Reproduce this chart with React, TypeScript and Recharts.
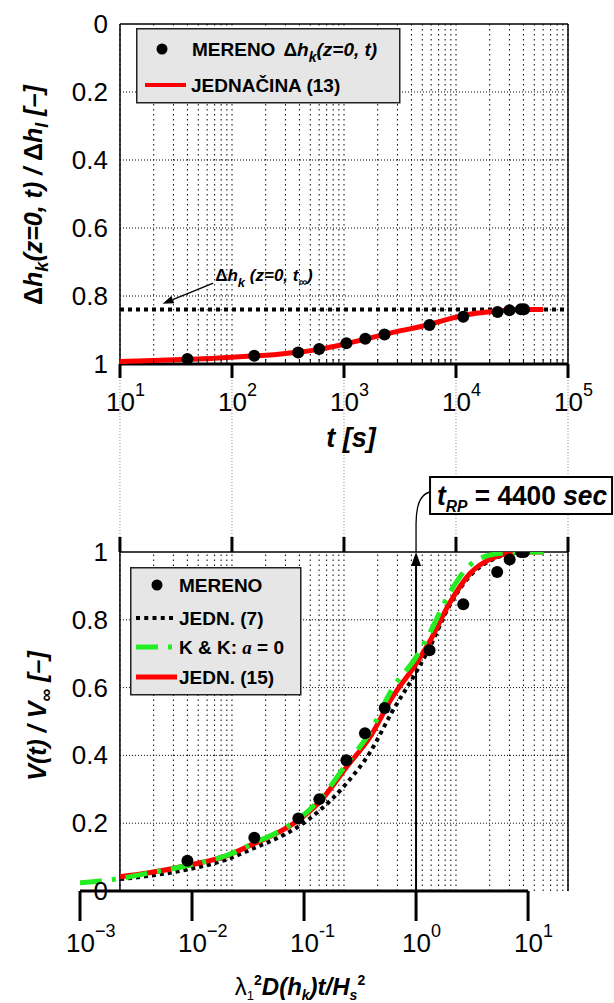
import React from 'react';
import { ComposedChart, Line, Scatter, XAxis, YAxis, ReferenceLine, Legend } from 'recharts';

const FONT = '"Liberation Sans", Arial, Helvetica, sans-serif';

// ---------- axes ----------
const T_DECADES = [10, 100, 1000, 10000, 100000];
const T_DECADE_EXP = ['1', '2', '3', '4', '5'];
const MINOR_MULT = [2, 3, 4, 5, 6, 7, 8, 9];
const Y_TICKS = [0, 0.2, 0.4, 0.6, 0.8, 1];
const Y_TICK_LABELS = ['0', '0.2', '0.4', '0.6', '0.8', '1'];
const Y_GRID = [0.2, 0.4, 0.6, 0.8];
const LAM_TICKS = [0.001, 0.01, 0.1, 1, 10];
const LAM_TICK_EXP = ['\u22123', '\u22122', '-1', '0', '1'];

// ---------- top chart data ----------
const T_MEAS = [40, 158, 390, 600, 1050, 1550, 2300, 5800, 11600, 23500, 30000, 38000, 40500];
const DH_MEAS = [0.985, 0.976, 0.966, 0.956, 0.939, 0.926, 0.913, 0.885, 0.861, 0.847, 0.842, 0.839, 0.839];
const T_EQ13 = [10, 20, 40, 70, 100, 160, 250, 400, 600, 1000, 1500, 2300, 3000, 5000, 7000, 10000, 15000, 20000, 30000, 45000, 60000];
const DH_EQ13 = [0.993, 0.99, 0.986, 0.983, 0.98, 0.976, 0.972, 0.965, 0.957, 0.942, 0.928, 0.913, 0.904, 0.889, 0.876, 0.862, 0.851, 0.846, 0.841, 0.84, 0.84];
const DH_INF = 0.84;
const DH_ARROW_T = [68, 24];
const DH_ARROW_V = [0.762, 0.823];
const TOP_LEGEND = ['MERENO', 'JEDNAČINA (13)'];

// ---------- bottom chart data ----------
const T_RP = 4400;
const LAM_MEAS = [0.0091, 0.036, 0.089, 0.137, 0.239, 0.35, 0.525, 1.32, 2.64, 5.3, 6.85, 8.65, 9.2];
const V_MEAS = [0.089, 0.157, 0.214, 0.271, 0.386, 0.465, 0.54, 0.71, 0.846, 0.941, 0.978, 1.0, 1.0];
const LAM_CURVE = [0.001, 0.00228, 0.004, 0.01, 0.02, 0.036, 0.063, 0.089, 0.138, 0.24, 0.39, 0.61, 1.0, 1.32, 2.0, 3.0, 4.9, 8.6, 13.8];
const V_EQ7 = [null, 0.035, 0.044, 0.066, 0.092, 0.127, 0.162, 0.19, 0.238, 0.318, 0.41, 0.528, 0.645, 0.718, 0.843, 0.928, 0.979, 0.999, 1.0];
const V_KK = [0.024, 0.037, 0.052, 0.078, 0.104, 0.142, 0.18, 0.212, 0.27, 0.375, 0.47, 0.595, 0.69, 0.76, 0.88, 0.96, 0.993, 1.0, 1.0];
const V_EQ15 = [null, 0.042, 0.053, 0.078, 0.103, 0.14, 0.178, 0.209, 0.263, 0.366, 0.455, 0.57, 0.67, 0.735, 0.85, 0.935, 0.983, 1.0, 1.0];
const BOTTOM_LEGEND = ['MERENO', 'JEDN. (7)', 'K & K: ', 'JEDN. (15)'];

// ---------- derived tables ----------
const T_GRID: number[] = [];
T_DECADES.forEach((d, i) => {
  T_GRID.push(d);
  if (i < T_DECADES.length - 1) MINOR_MULT.forEach((m) => T_GRID.push(m * d));
});

const topMeas = T_MEAS.map((t, i) => ({ t, v: DH_MEAS[i] }));
const topEq13 = T_EQ13.map((t, i) => ({ t, v: DH_EQ13[i] }));
const btmMeas = LAM_MEAS.map((lam, i) => ({ lam, v: V_MEAS[i] }));
const mk = (arr: (number | null)[]) =>
  LAM_CURVE.map((lam, i) => ({ lam, v: arr[i] })).filter((d) => d.v != null);
const btmEq7 = mk(V_EQ7);
const btmKK = mk(V_KK);
const btmEq15 = mk(V_EQ15);

const T_MIN = T_DECADES[0];
const T_MAX = T_DECADES[T_DECADES.length - 1];
const LAM_MIN = LAM_TICKS[0];

// ---------- renderers ----------
const DotShape = (p: any) => <circle cx={p.cx} cy={p.cy} r={6} fill="#000" />;

const TopXTick = (p: any) => {
  const { x, y, payload } = p;
  const i = T_DECADES.indexOf(payload.value);
  if (i < 0) return <line x1={x} y1={y} x2={x} y2={y - 5} stroke="#000" strokeWidth={1} />;
  return (
    <g>
      <line x1={x} y1={y} x2={x} y2={y + 14} stroke="#000" strokeWidth={3} />
      <text x={x - 14} y={y + 47} fontFamily={FONT} fontSize={26} fill="#000">
        10<tspan dy={-15} fontSize={18}>{T_DECADE_EXP[i]}</tspan>
      </text>
    </g>
  );
};

const BtmTopTick = (p: any) => {
  const { x, y, payload } = p;
  const i = T_DECADES.indexOf(payload.value);
  if (i < 0) return <g />;
  return <line x1={x} y1={y} x2={x} y2={y - 15} stroke="#000" strokeWidth={3} />;
};

const LamTick = (p: any) => {
  const { x, y, payload } = p;
  const i = LAM_TICKS.indexOf(payload.value);
  return (
    <g>
      <line x1={x} y1={y} x2={x} y2={y + 30} stroke="#000" strokeWidth={3} />
      <text x={x - 14} y={y + 61} fontFamily={FONT} fontSize={26} fill="#000">
        10<tspan dy={-15} fontSize={18}>{LAM_TICK_EXP[i]}</tspan>
      </text>
    </g>
  );
};

const makeYTick = (dx: number) => (p: any) => {
  const { x, y, payload } = p;
  const i = Y_TICKS.indexOf(payload.value);
  return (
    <text x={x + dx} y={y} dy={9} textAnchor="end" fontFamily={FONT} fontSize={26} fill="#000">
      {Y_TICK_LABELS[i]}
    </text>
  );
};

const DhArrow = (p: any) => {
  const { x1, y1, x2, y2 } = p;
  const ang = Math.atan2(y2 - y1, x2 - x1);
  const L = 11;
  const W = 4;
  const bx = x2 - L * Math.cos(ang);
  const by = y2 - L * Math.sin(ang);
  const px = -Math.sin(ang) * W;
  const py = Math.cos(ang) * W;
  return (
    <g>
      <line x1={x1} y1={y1} x2={bx} y2={by} stroke="#000" strokeWidth={1.3} />
      <polygon points={`${x2},${y2} ${bx + px},${by + py} ${bx - px},${by - py}`} fill="#000" />
      <text x={x1 + 2} y={y1 - 2} fontFamily={FONT} fontWeight="bold" fontSize={17} fill="#000">
        {'\u0394'}
        <tspan fontStyle="italic">h</tspan>
        <tspan fontStyle="italic" fontSize={13} dy={6}>k</tspan>
        <tspan fontStyle="italic" dy={-6}> (z=0, t</tspan>
        <tspan fontStyle="italic" fontSize={12} dy={5}>{'\u221e'}</tspan>
        <tspan fontStyle="italic" dy={-5}>)</tspan>
      </text>
    </g>
  );
};

const TrpArrow = (p: any) => {
  const { x1, y1, y2 } = p;
  const top = Math.min(y1, y2);
  const bot = Math.max(y1, y2);
  const x = x1;
  return (
    <g>
      <line x1={x} y1={bot} x2={x} y2={top + 12} stroke="#000" strokeWidth={2} />
      <polygon points={`${x},${top} ${x - 5},${top + 14} ${x + 5},${top + 14}`} fill="#000" />
      <path
        d={`M${x},${top} L${x},${top - 28} C${x},${top - 48} ${x + 5},${top - 58} ${x + 14},${top - 60}`}
        fill="none"
        stroke="#000"
        strokeWidth={1.3}
      />
      <rect x={x + 14} y={top - 75} width={182} height={37} fill="#fff" stroke="#000" strokeWidth={2} />
      <text
        x={x + 21}
        y={top - 47}
        fontFamily={FONT}
        fontWeight="bold"
        fontSize={27}
        fill="#000"
        textLength={170}
        lengthAdjust="spacingAndGlyphs"
      >
        <tspan fontStyle="italic">t</tspan>
        <tspan fontStyle="italic" fontSize={16} dy={7}>RP</tspan>
        <tspan dy={-7}> = {T_RP} </tspan>
        <tspan fontStyle="italic">sec</tspan>
      </text>
    </g>
  );
};

const TopLegend = () => (
  <svg width={266} height={77} style={{ display: 'block' }}>
    <rect x={0.75} y={0.75} width={263} height={74} fill="#e6e6e6" stroke="#222" strokeWidth={1.5} />
    <circle cx={26} cy={21} r={5.5} fill="#000" />
    <text x={56} y={28} fontFamily={FONT} fontWeight="bold" fontSize={19} fill="#000">
      {TOP_LEGEND[0]}
      <tspan dx={8}>{'\u0394'}</tspan>
      <tspan fontStyle="italic">h</tspan>
      <tspan fontStyle="italic" fontSize={14} dy={6}>k</tspan>
      <tspan fontStyle="italic" dy={-6}>(z=0, t)</tspan>
    </text>
    <line x1={9} y1={57} x2={50} y2={57} stroke="#ff0000" strokeWidth={4} />
    <text x={55} y={64} fontFamily={FONT} fontWeight="bold" fontSize={19} fill="#000">
      {TOP_LEGEND[1]}
    </text>
  </svg>
);

const BottomLegend = () => (
  <svg width={172} height={129} style={{ display: 'block' }}>
    <rect x={0.75} y={0.75} width={170} height={127} fill="#e6e6e6" stroke="#222" strokeWidth={1.5} />
    <circle cx={27} cy={18} r={5.5} fill="#000" />
    <text x={49} y={25} fontFamily={FONT} fontWeight="bold" fontSize={19} fill="#000">{BOTTOM_LEGEND[0]}</text>
    <line x1={6} y1={51} x2={47} y2={51} stroke="#000" strokeWidth={4} strokeDasharray="4 4.25" />
    <text x={49} y={58} fontFamily={FONT} fontWeight="bold" fontSize={19} fill="#000">{BOTTOM_LEGEND[1]}</text>
    <line x1={6} y1={80} x2={47} y2={80} stroke="#22ee22" strokeWidth={5} strokeDasharray="22 10 4 10" />
    <text x={49} y={87} fontFamily={FONT} fontWeight="bold" fontSize={19} fill="#000">
      {BOTTOM_LEGEND[2]}
      <tspan fontFamily="'Liberation Serif', serif" fontStyle="italic">a</tspan> = 0
    </text>
    <line x1={6} y1={110} x2={47} y2={110} stroke="#ff0000" strokeWidth={5} />
    <text x={49} y={117} fontFamily={FONT} fontWeight="bold" fontSize={19} fill="#000">{BOTTOM_LEGEND[3]}</text>
  </svg>
);

const GRID_V = '1.5 3.5';
const GRID_H = '1 2';

function TopChart() {
  return (
    <ComposedChart width={614} height={470} margin={{ top: 24, right: 46, bottom: 46, left: 60 }}>
      <XAxis
        dataKey="t"
        type="number"
        scale="log"
        domain={[T_MIN, T_MAX]}
        allowDataOverflow
        ticks={T_GRID}
        interval={0}
        tickLine={false}
        axisLine={false}
        tickSize={0}
        tickMargin={0}
        height={60}
        tick={TopXTick}
      />
      <YAxis
        dataKey="v"
        type="number"
        domain={[0, 1]}
        reversed
        allowDataOverflow
        ticks={Y_TICKS}
        interval={0}
        tickLine={false}
        axisLine={false}
        tickSize={0}
        tickMargin={0}
        width={60}
        tick={makeYTick(-12)}
      />
      {T_GRID.map((t) => (
        <ReferenceLine key={'gv' + t} segment={[{ x: t, y: 0 }, { x: t, y: 1 }]} stroke="#000" strokeWidth={1} strokeDasharray={GRID_V} ifOverflow="visible" />
      ))}
      {Y_GRID.map((v) => (
        <ReferenceLine key={'gh' + v} segment={[{ x: T_MIN, y: v }, { x: T_MAX, y: v }]} stroke="#000" strokeWidth={1} strokeDasharray={GRID_H} ifOverflow="visible" />
      ))}
      <ReferenceLine segment={[{ x: T_MIN, y: 0 }, { x: T_MIN, y: 1 }]} stroke="#000" strokeWidth={1.5} ifOverflow="visible" />
      <ReferenceLine segment={[{ x: T_MAX, y: 0 }, { x: T_MAX, y: 1 }]} stroke="#000" strokeWidth={1.5} ifOverflow="visible" />
      <ReferenceLine segment={[{ x: T_MIN, y: 0 }, { x: T_MAX, y: 0 }]} stroke="#000" strokeWidth={1.5} ifOverflow="visible" />
      <ReferenceLine segment={[{ x: T_MIN, y: 1 }, { x: T_MAX, y: 1 }]} stroke="#000" strokeWidth={3} ifOverflow="visible" />
      <ReferenceLine y={DH_INF} stroke="#000" strokeWidth={4} strokeDasharray="4 4" ifOverflow="visible" />
      <Line data={topEq13} dataKey="v" type="monotone" stroke="#ff0000" strokeWidth={5} dot={false} isAnimationActive={false} />
      <Scatter data={topMeas} dataKey="v" shape={DotShape} isAnimationActive={false} />
      <ReferenceLine
        segment={[{ x: DH_ARROW_T[0], y: DH_ARROW_V[0] }, { x: DH_ARROW_T[1], y: DH_ARROW_V[1] }]}
        shape={DhArrow}
        ifOverflow="visible"
      />
      <Legend
        layout="vertical"
        align="center"
        verticalAlign="middle"
        wrapperStyle={{ left: 136, top: 28, width: 266, height: 77 }}
        content={() => <TopLegend />}
      />
    </ComposedChart>
  );
}

function BottomChart() {
  return (
    <ComposedChart width={614} height={633} margin={{ top: 150, right: 46, bottom: 52, left: 40 }}>
      <XAxis
        xAxisId="lam"
        orientation="bottom"
        dataKey="lam"
        type="number"
        scale="log"
        domain={[LAM_MIN, T_MAX / T_RP]}
        allowDataOverflow
        ticks={LAM_TICKS}
        interval={0}
        tickLine={false}
        axisLine={false}
        tickSize={0}
        tickMargin={0}
        height={60}
        tick={LamTick}
      />
      <XAxis
        xAxisId="t"
        orientation="top"
        dataKey="t"
        type="number"
        scale="log"
        domain={[LAM_MIN * T_RP, T_MAX]}
        allowDataOverflow
        ticks={T_GRID}
        interval={0}
        tickLine={false}
        axisLine={false}
        tickSize={0}
        tickMargin={0}
        height={32}
        tick={BtmTopTick}
      />
      <YAxis
        yAxisId="v"
        dataKey="v"
        type="number"
        domain={[0, 1]}
        allowDataOverflow
        ticks={Y_TICKS}
        interval={0}
        tickLine={false}
        axisLine={false}
        tickSize={0}
        tickMargin={0}
        width={40}
        tick={makeYTick(28)}
      />
      {T_GRID.map((t) => (
        <ReferenceLine key={'gv' + t} xAxisId="t" yAxisId="v" segment={[{ x: t, y: 0 }, { x: t, y: 1 }]} stroke="#000" strokeWidth={1} strokeDasharray={GRID_V} ifOverflow="visible" />
      ))}
      {T_DECADES.map((t) => (
        <ReferenceLine key={'gb' + t} xAxisId="t" yAxisId="v" segment={[{ x: t, y: 1.044 }, { x: t, y: 1.513 }]} stroke="#888" strokeWidth={1} strokeDasharray="1 2" ifOverflow="visible" />
      ))}
      {Y_GRID.map((v) => (
        <ReferenceLine key={'gh' + v} xAxisId="t" yAxisId="v" segment={[{ x: T_MIN, y: v }, { x: T_MAX, y: v }]} stroke="#000" strokeWidth={1} strokeDasharray={GRID_H} ifOverflow="visible" />
      ))}
      <ReferenceLine xAxisId="t" yAxisId="v" segment={[{ x: T_MIN, y: 0 }, { x: T_MIN, y: 1 }]} stroke="#000" strokeWidth={1.5} ifOverflow="visible" />
      <ReferenceLine xAxisId="t" yAxisId="v" segment={[{ x: T_MAX, y: 0 }, { x: T_MAX, y: 1 }]} stroke="#000" strokeWidth={1.5} ifOverflow="visible" />
      <ReferenceLine xAxisId="t" yAxisId="v" segment={[{ x: T_MIN, y: 1 }, { x: T_MAX, y: 1 }]} stroke="#000" strokeWidth={1.5} ifOverflow="visible" />
      <ReferenceLine xAxisId="lam" yAxisId="v" segment={[{ x: LAM_TICKS[0], y: 0 }, { x: LAM_TICKS[LAM_TICKS.length - 1], y: 0 }]} stroke="#000" strokeWidth={3} ifOverflow="visible" />
      <ReferenceLine xAxisId="lam" yAxisId="v" x={1} shape={TrpArrow} ifOverflow="visible" />
      <Line xAxisId="lam" yAxisId="v" data={btmEq7} dataKey="v" type="monotone" stroke="#000" strokeWidth={4} strokeDasharray="4 4" dot={false} isAnimationActive={false} />
      <Line xAxisId="lam" yAxisId="v" data={btmEq15} dataKey="v" type="monotone" stroke="#ff0000" strokeWidth={5} dot={false} isAnimationActive={false} />
      <Line xAxisId="lam" yAxisId="v" data={btmKK} dataKey="v" type="monotone" stroke="#22ee22" strokeWidth={5} strokeDasharray="22 10 4 10" dot={false} isAnimationActive={false} />
      <Scatter xAxisId="lam" yAxisId="v" data={btmMeas} dataKey="v" shape={DotShape} isAnimationActive={false} />
      <Legend
        layout="vertical"
        align="center"
        verticalAlign="middle"
        wrapperStyle={{ left: 130, top: 197, width: 172, height: 129 }}
        content={() => <BottomLegend />}
      />
    </ComposedChart>
  );
}

const Titles = () => (
  <svg width={614} height={1003} style={{ position: 'absolute', left: 0, top: 0, pointerEvents: 'none' }}>
    <text transform="translate(42,195) rotate(-90)" textAnchor="middle" fontFamily={FONT} fontWeight="bold" fontSize={25} fill="#000">
      {'\u0394'}
      <tspan fontStyle="italic">h</tspan>
      <tspan fontStyle="italic" fontSize={18} dy={6}>k</tspan>
      <tspan fontStyle="italic" dy={-6}>(z=0, t) / </tspan>
      {'\u0394'}
      <tspan fontStyle="italic">h</tspan>
      <tspan fontStyle="italic" fontSize={18} dy={6}>l</tspan>
      <tspan fontStyle="italic" dy={-6}> [{'\u2013'}]</tspan>
    </text>
    <text x={351} y={447} textAnchor="middle" fontFamily={FONT} fontWeight="bold" fontStyle="italic" fontSize={27} fill="#000">
      t [s]
    </text>
    <text transform="translate(46,716) rotate(-90)" textAnchor="middle" fontFamily={FONT} fontWeight="bold" fontSize={25} fill="#000">
      <tspan fontStyle="italic">V(t) / V</tspan>
      <tspan fontSize={18} dy={6}>{'\u221e'}</tspan>
      <tspan fontStyle="italic" dy={-6}> [{'\u2013'}]</tspan>
    </text>
    <text x={300} y={995} textAnchor="middle" fontFamily={FONT} fontWeight="bold" fontSize={24} fill="#000">
      <tspan fontWeight="normal">{'\u03bb'}</tspan>
      <tspan fontSize={13} dy={5} fontWeight="normal">1</tspan>
      <tspan fontSize={14} dy={-15}>2</tspan>
      <tspan fontStyle="italic" dy={10}>D(h</tspan>
      <tspan fontStyle="italic" fontSize={14} dy={5}>k</tspan>
      <tspan fontStyle="italic" dy={-5}>)t/H</tspan>
      <tspan fontStyle="italic" fontSize={14} dy={5}>s</tspan>
      <tspan fontSize={14} dy={-15}>2</tspan>
    </text>
  </svg>
);

export default function App() {
  return (
    <div style={{ position: 'absolute', left: 0, top: 0, width: 614, height: 1003, background: '#fff', overflow: 'hidden' }}>
      <div style={{ position: 'absolute', left: 0, top: 0 }}>
        <TopChart />
      </div>
      <div style={{ position: 'absolute', left: 0, top: 370 }}>
        <BottomChart />
      </div>
      <Titles />
    </div>
  );
}
